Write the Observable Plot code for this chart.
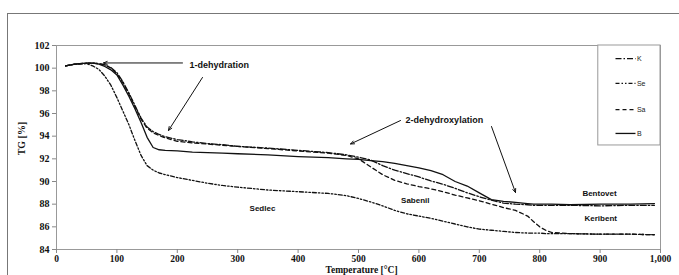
<!DOCTYPE html>
<html><head><meta charset="utf-8">
<script src="https://cdn.jsdelivr.net/npm/d3@7"></script>
<script src="https://cdn.jsdelivr.net/npm/@observablehq/plot@0.6"></script>
<style>
html,body{margin:0;padding:0;background:#fff;overflow:hidden;}
#wrap{position:relative;width:679px;height:275px;overflow:hidden;}
#border{position:absolute;left:7px;top:13px;width:1000px;height:400px;border:1px solid #777;box-sizing:border-box;}
#chart{position:absolute;left:0;top:0;}
</style></head><body>
<div id="wrap"><div id="border"></div><div id="chart"></div></div>
<script>
const temperature = [15,30,50,60,70,80,90,100,110,120,130,140,150,160,170,180,200,225,250,275,300,350,400,450,480,500,520,540,560,580,600,620,640,660,680,700,720,740,760,780,790,800,810,820,850,900,950,990];
const tgK  = [100.2,100.35,100.45,100.45,100.4,100.3,100.05,99.6,98.8,97.8,96.7,95.6,94.8,94.4,94.15,93.95,93.7,93.5,93.35,93.25,93.1,92.95,92.75,92.55,92.35,92.15,91.9,91.4,91.0,90.7,90.4,90.05,89.75,89.4,89.0,88.65,88.35,88.1,88.0,87.95,87.9,87.9,87.9,87.9,87.9,87.85,87.9,87.9];
const tgSe = [100.2,100.35,100.4,100.2,99.9,99.3,98.5,97.4,96.2,95.0,93.6,92.3,91.4,91.0,90.75,90.6,90.35,90.1,89.85,89.65,89.5,89.25,89.1,88.95,88.75,88.5,88.2,87.85,87.45,87.15,86.95,86.75,86.5,86.25,86.0,85.8,85.7,85.6,85.5,85.45,85.45,85.45,85.4,85.4,85.4,85.35,85.35,85.3];
const tgSa = [100.2,100.35,100.45,100.45,100.4,100.3,100.0,99.5,98.7,97.7,96.6,95.5,94.7,94.3,94.05,93.85,93.55,93.4,93.3,93.2,93.1,92.9,92.7,92.5,92.3,92.0,91.3,90.6,90.1,89.8,89.55,89.35,89.1,88.8,88.55,88.3,88.0,87.7,87.45,86.95,86.45,86.0,85.7,85.5,85.4,85.35,85.35,85.3];
const tgB  = [100.2,100.35,100.45,100.45,100.35,100.15,99.85,99.4,98.5,97.5,96.4,95.2,93.9,93.0,92.8,92.75,92.7,92.6,92.55,92.5,92.45,92.35,92.2,92.1,92.0,91.95,91.85,91.75,91.6,91.4,91.2,90.95,90.6,90.0,89.6,89.0,88.4,88.25,88.15,88.05,88.0,88.0,88.0,88.0,87.95,88.0,88.0,88.05];

const seriesNames = ["K","Se","Sa","B"];
const seriesValues = [tgK, tgSe, tgSa, tgB];
const seriesDash = ["6,2,1.5,2","4,2,1.5,2,1.5,2","4,3",null];

const xTicks = [0,100,200,300,400,500,600,700,800,900,1000];
const yTicks = [84,86,88,90,92,94,96,98,100,102];

const arrowX1 = [208.6, 241.7, 569.5, 720.2];
const arrowY1 = [100.46, 99.18, 95.38, 94.85];
const arrowX2 = [77.8, 185.4, 486.8, 759.9];
const arrowY2 = [100.46, 94.5, 93.31, 89.03];

const stageText = ["1-dehydration","2-dehydroxylation"];
const stageX = [220, 578];
const stageY = [100.24, 95.38];

const sampleText = ["Sedlec","Sabenil","Bentovet","Keribent"];
const sampleX = [341, 594, 899, 901];
const sampleY = [87.62, 88.32, 88.94, 86.74];

const legendY = [100.85, 98.65, 96.35, 94.24];

const rows = [];
seriesNames.forEach((s,i)=>temperature.forEach((t,j)=>rows.push({series:s,t,v:seriesValues[i][j]})));
const arrows = arrowX1.map((x,i)=>({x1:x,y1:arrowY1[i],x2:arrowX2[i],y2:arrowY2[i]}));
const stages = stageText.map((s,i)=>({s,x:stageX[i],y:stageY[i]}));
const samples = sampleText.map((s,i)=>({s,x:sampleX[i],y:sampleY[i]}));

const sans = "Liberation Sans, Arial, sans-serif";
const lineMarks = seriesNames.map((s,i)=>Plot.line(rows.filter(r=>r.series===s),{x:"t",y:"v",stroke:"#111",strokeWidth:1.3,strokeDasharray:seriesDash[i],curve:"linear"}));
const legendMarks = seriesNames.flatMap((s,i)=>[
  Plot.link([s],{x1:925.5,x2:958.6,y1:legendY[i],y2:legendY[i],stroke:"#111",strokeWidth:1.3,strokeDasharray:seriesDash[i]}),
  Plot.text([s],{x:961,y:legendY[i],text:d=>d,textAnchor:"start",fontFamily:sans,fontSize:7,fontWeight:"normal",fill:"#222"})
]);

const chart = Plot.plot({
  width:679, height:275,
  marginLeft:56, marginRight:19, marginTop:45, marginBottom:26,
  x:{domain:[0,1000]}, y:{domain:[84,102]},
  style:{fontFamily:"Liberation Serif", background:"transparent", overflow:"visible"},
  marks:[
    Plot.frame({stroke:"#999"}),
    Plot.axisX({ticks:xTicks, tickSize:4, tickPadding:2, stroke:"#888", fill:"#111", fontWeight:"bold", fontSize:9.5, label:null, tickFormat:d=>d}),
    Plot.axisY({ticks:yTicks, tickSize:4, tickPadding:3, stroke:"#888", fill:"#111", fontWeight:"bold", fontSize:10, label:null, tickFormat:d=>d}),
    ...lineMarks,
    Plot.arrow(arrows,{x1:"x1",y1:"y1",x2:"x2",y2:"y2",stroke:"#111",strokeWidth:1,headLength:6,headAngle:45}),
    Plot.text(stages,{x:"x",y:"y",text:"s",textAnchor:"start",fontFamily:sans,fontWeight:"bold",fontSize:9,fill:"#111"}),
    Plot.text(samples,{x:"x",y:"y",text:"s",fontFamily:sans,fontWeight:"bold",fontSize:8,fill:"#111"}),
    Plot.rect([0],{x1:897,x2:1000,y1:102,y2:93.18,fill:"white",stroke:"#999"}),
    ...legendMarks,
    Plot.text(["TG [%]"],{x:-57,y:93.79,text:d=>d,rotate:-90,fontWeight:"bold",fontSize:10,fill:"#111"}),
    Plot.text(["Temperature [°C]"],{x:505,y:82.18,text:d=>d,fontWeight:"bold",fontSize:9.5,fill:"#111"})
  ]
});
document.getElementById("chart").appendChild(chart);
</script>
</body></html>
